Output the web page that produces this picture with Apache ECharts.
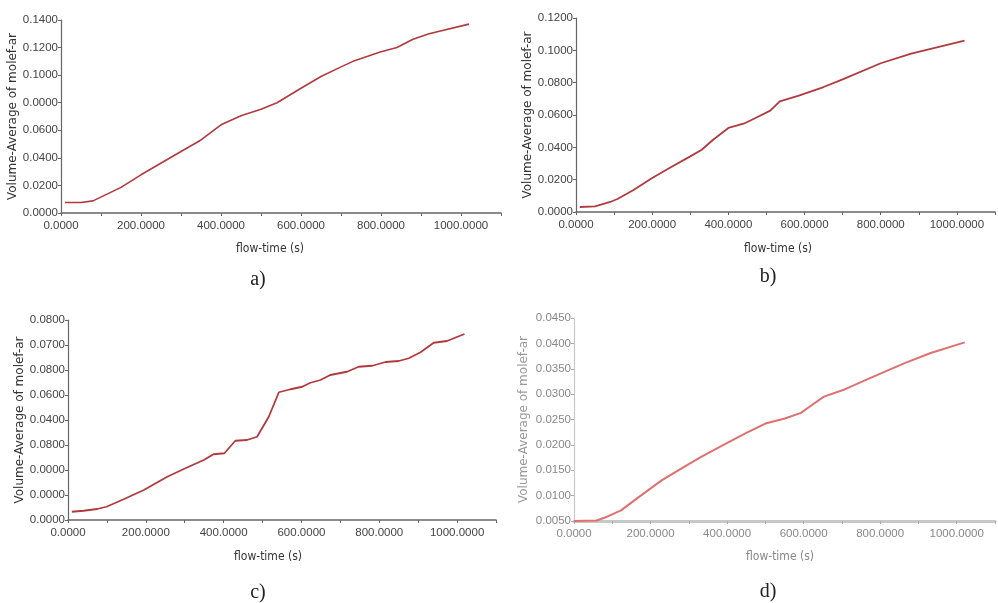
<!DOCTYPE html>
<html lang="en">
<head>
    <meta charset="UTF-8">
    <title>flow-time</title>
    <script src="https://cdn.jsdelivr.net/npm/echarts@6.0.0/dist/echarts.min.js"></script>
    <style>
        body { margin: 0; background: #fff; }
        #myChart { width: 998px; height: 603px; }
    </style>
</head>
<body>
<div id="myChart"></div>
<script>
    // flow-time (s) samples and volume-average values
    var timeA = [10, 50, 80, 150, 200, 300, 350, 400, 450, 500, 540, 600, 650, 700, 730, 800, 840, 880, 920, 1020];
    var valA = [0.0076, 0.0076, 0.0088, 0.0186, 0.0277, 0.0446, 0.0530, 0.0640, 0.0705, 0.0753, 0.0800, 0.0905, 0.0990, 0.1060, 0.1100, 0.1170, 0.1200, 0.1260, 0.1300, 0.1370];

    var timeB = [10, 50, 90, 110, 150, 200, 250, 300, 330, 360, 400, 440, 470, 510, 535, 585, 650, 700, 800, 880, 1020];
    var valB = [0.0031, 0.0035, 0.0062, 0.0082, 0.0134, 0.0210, 0.0278, 0.0344, 0.0385, 0.0447, 0.0520, 0.0546, 0.0580, 0.0627, 0.0684, 0.0720, 0.0773, 0.0820, 0.0920, 0.0980, 0.1060];

    var timeC = [10, 40, 75, 99, 143, 195, 255, 306, 349, 374, 402, 430, 460, 486, 516, 542, 572, 602, 623, 649, 674, 717, 747, 782, 816, 850, 876, 906, 940, 974, 1019];
    var valC = [0.0033, 0.0037, 0.0044, 0.0053, 0.0083, 0.0120, 0.0173, 0.0210, 0.0240, 0.0263, 0.0267, 0.0317, 0.0320, 0.0333, 0.0413, 0.0511, 0.0523, 0.0533, 0.0549, 0.0560, 0.0580, 0.0593, 0.0613, 0.0617, 0.0632, 0.0636, 0.0647, 0.0671, 0.0709, 0.0716, 0.0744];

    var timeD = [0, 59, 85, 123, 169, 229, 280, 331, 398, 449, 500, 551, 593, 619, 653, 703, 754, 805, 864, 932, 1021];
    var valD = [0.0050, 0.0051, 0.0058, 0.0071, 0.0097, 0.0130, 0.0153, 0.0176, 0.0203, 0.0223, 0.0242, 0.0252, 0.0263, 0.0277, 0.0295, 0.0308, 0.0325, 0.0342, 0.0361, 0.0381, 0.0402];

    // tick labels as printed in the figure (bottom to top)
    var yLabelsA = ['0.0000', '0.0200', '0.0400', '0.0600', '0.0000', '0.1000', '0.1200', '0.1400'];
    var yLabelsB = ['0.0000', '0.0200', '0.0400', '0.0600', '0.0800', '0.1000', '0.1200'];
    var yLabelsC = ['0.0000', '0.0000', '0.0000', '0.0800', '0.0400', '0.0600', '0.0800', '0.0700', '0.0800'];
    var yLabelsD = ['0.0050', '0.0100', '0.0150', '0.0200', '0.0250', '0.0300', '0.0350', '0.0400', '0.0450'];
    var xLabels = ['0.0000', '200.0000', '400.0000', '600.0000', '800.0000', '1000.0000'];

    var yName = 'Volume-Average of molef-ar';
    var xName = 'flow-time (s)';
    var panelNames = ['a)', 'b)', 'c)', 'd)'];

    function pairs(t, v) {
        var out = [];
        for (let i = 0; i < t.length; i++) {
            out.push([t[i], v[i]]);
        }
        return out;
    }

    function xAxisFor(idx, faded) {
        return {
            type: 'value', gridIndex: idx, min: 0, max: 1100, interval: 100,
            splitLine: { show: false },
            axisLine: { lineStyle: { color: faded ? '#c8c8c8' : '#666', width: faded ? 3 : 1.5 } },
            axisTick: { length: 3, lineStyle: { color: faded ? '#aaa' : '#666' } },
            axisLabel: {
                color: faded ? '#888' : '#444', fontSize: 11.5, margin: 7,
                fontFamily: 'Liberation Sans',
                formatter: function (v) {
                    return v % 200 === 0 ? (xLabels[v / 200] || '') : '';
                }
            }
        };
    }

    function yAxisFor(idx, min, max, step, labels, faded) {
        return {
            type: 'value', gridIndex: idx, min: min, max: max, interval: step,
            splitLine: { show: false },
            axisLine: { show: true, lineStyle: { color: faded ? '#c8c8c8' : '#666', width: 1.2 } },
            axisTick: { show: true, length: 3, lineStyle: { color: faded ? '#aaa' : '#666' } },
            axisLabel: {
                color: faded ? '#888' : '#444', fontSize: 11.5, margin: 3,
                fontFamily: 'Liberation Sans',
                formatter: function (v) {
                    return labels[Math.round((v - min) / step)] || '';
                }
            },
            name: yName, nameLocation: 'middle', nameGap: faded ? 44 : 41,
            nameTextStyle: { color: faded ? '#999' : '#333', fontSize: 12, fontFamily: 'DejaVu Sans' }
        };
    }

    function label(x, y, s, size, family, color) {
        return {
            type: 'text', x: x, y: y,
            style: { text: s, fontSize: size, fontFamily: family, fill: color, align: 'center', verticalAlign: 'middle' }
        };
    }

    var chart = echarts.init(document.getElementById('myChart'));
    chart.setOption({
        animation: false,
        grid: [
            { left: 61, top: 20, width: 440, height: 193 },
            { left: 576, top: 18, width: 428, height: 194 },
            { left: 68, top: 320, width: 428, height: 200 },
            { left: 574, top: 318, width: 432, height: 203 }
        ],
        xAxis: [xAxisFor(0, false), xAxisFor(1, false), xAxisFor(2, false), xAxisFor(3, true)],
        yAxis: [
            yAxisFor(0, 0, 0.14, 0.02, yLabelsA, false),
            yAxisFor(1, 0, 0.12, 0.02, yLabelsB, false),
            yAxisFor(2, 0, 0.08, 0.01, yLabelsC, false),
            yAxisFor(3, 0.005, 0.045, 0.005, yLabelsD, true)
        ],
        graphic: [
            label(270, 249, xName, 12, 'DejaVu Sans Condensed', '#333'),
            label(778, 249, xName, 12, 'DejaVu Sans Condensed', '#333'),
            label(268, 557, xName, 12, 'DejaVu Sans Condensed', '#333'),
            label(780, 557, xName, 12, 'DejaVu Sans Condensed', '#888'),
            label(258, 280, panelNames[0], 20, 'Liberation Serif', '#222'),
            label(768, 277, panelNames[1], 20, 'Liberation Serif', '#222'),
            label(258, 593, panelNames[2], 20, 'Liberation Serif', '#222'),
            label(768, 592, panelNames[3], 20, 'Liberation Serif', '#222')
        ],
        series: [
            { type: 'line', xAxisIndex: 0, yAxisIndex: 0, showSymbol: false, data: pairs(timeA, valA), lineStyle: { color: '#b03a3e', width: 1.6 } },
            { type: 'line', xAxisIndex: 1, yAxisIndex: 1, showSymbol: false, data: pairs(timeB, valB), lineStyle: { color: '#b03a3e', width: 1.8 } },
            { type: 'line', xAxisIndex: 2, yAxisIndex: 2, showSymbol: false, data: pairs(timeC, valC), lineStyle: { color: '#b03a3e', width: 1.8 } },
            { type: 'line', xAxisIndex: 3, yAxisIndex: 3, showSymbol: false, data: pairs(timeD, valD), lineStyle: { color: '#e07070', width: 2 } }
        ]
    });
</script>
</body>
</html>
